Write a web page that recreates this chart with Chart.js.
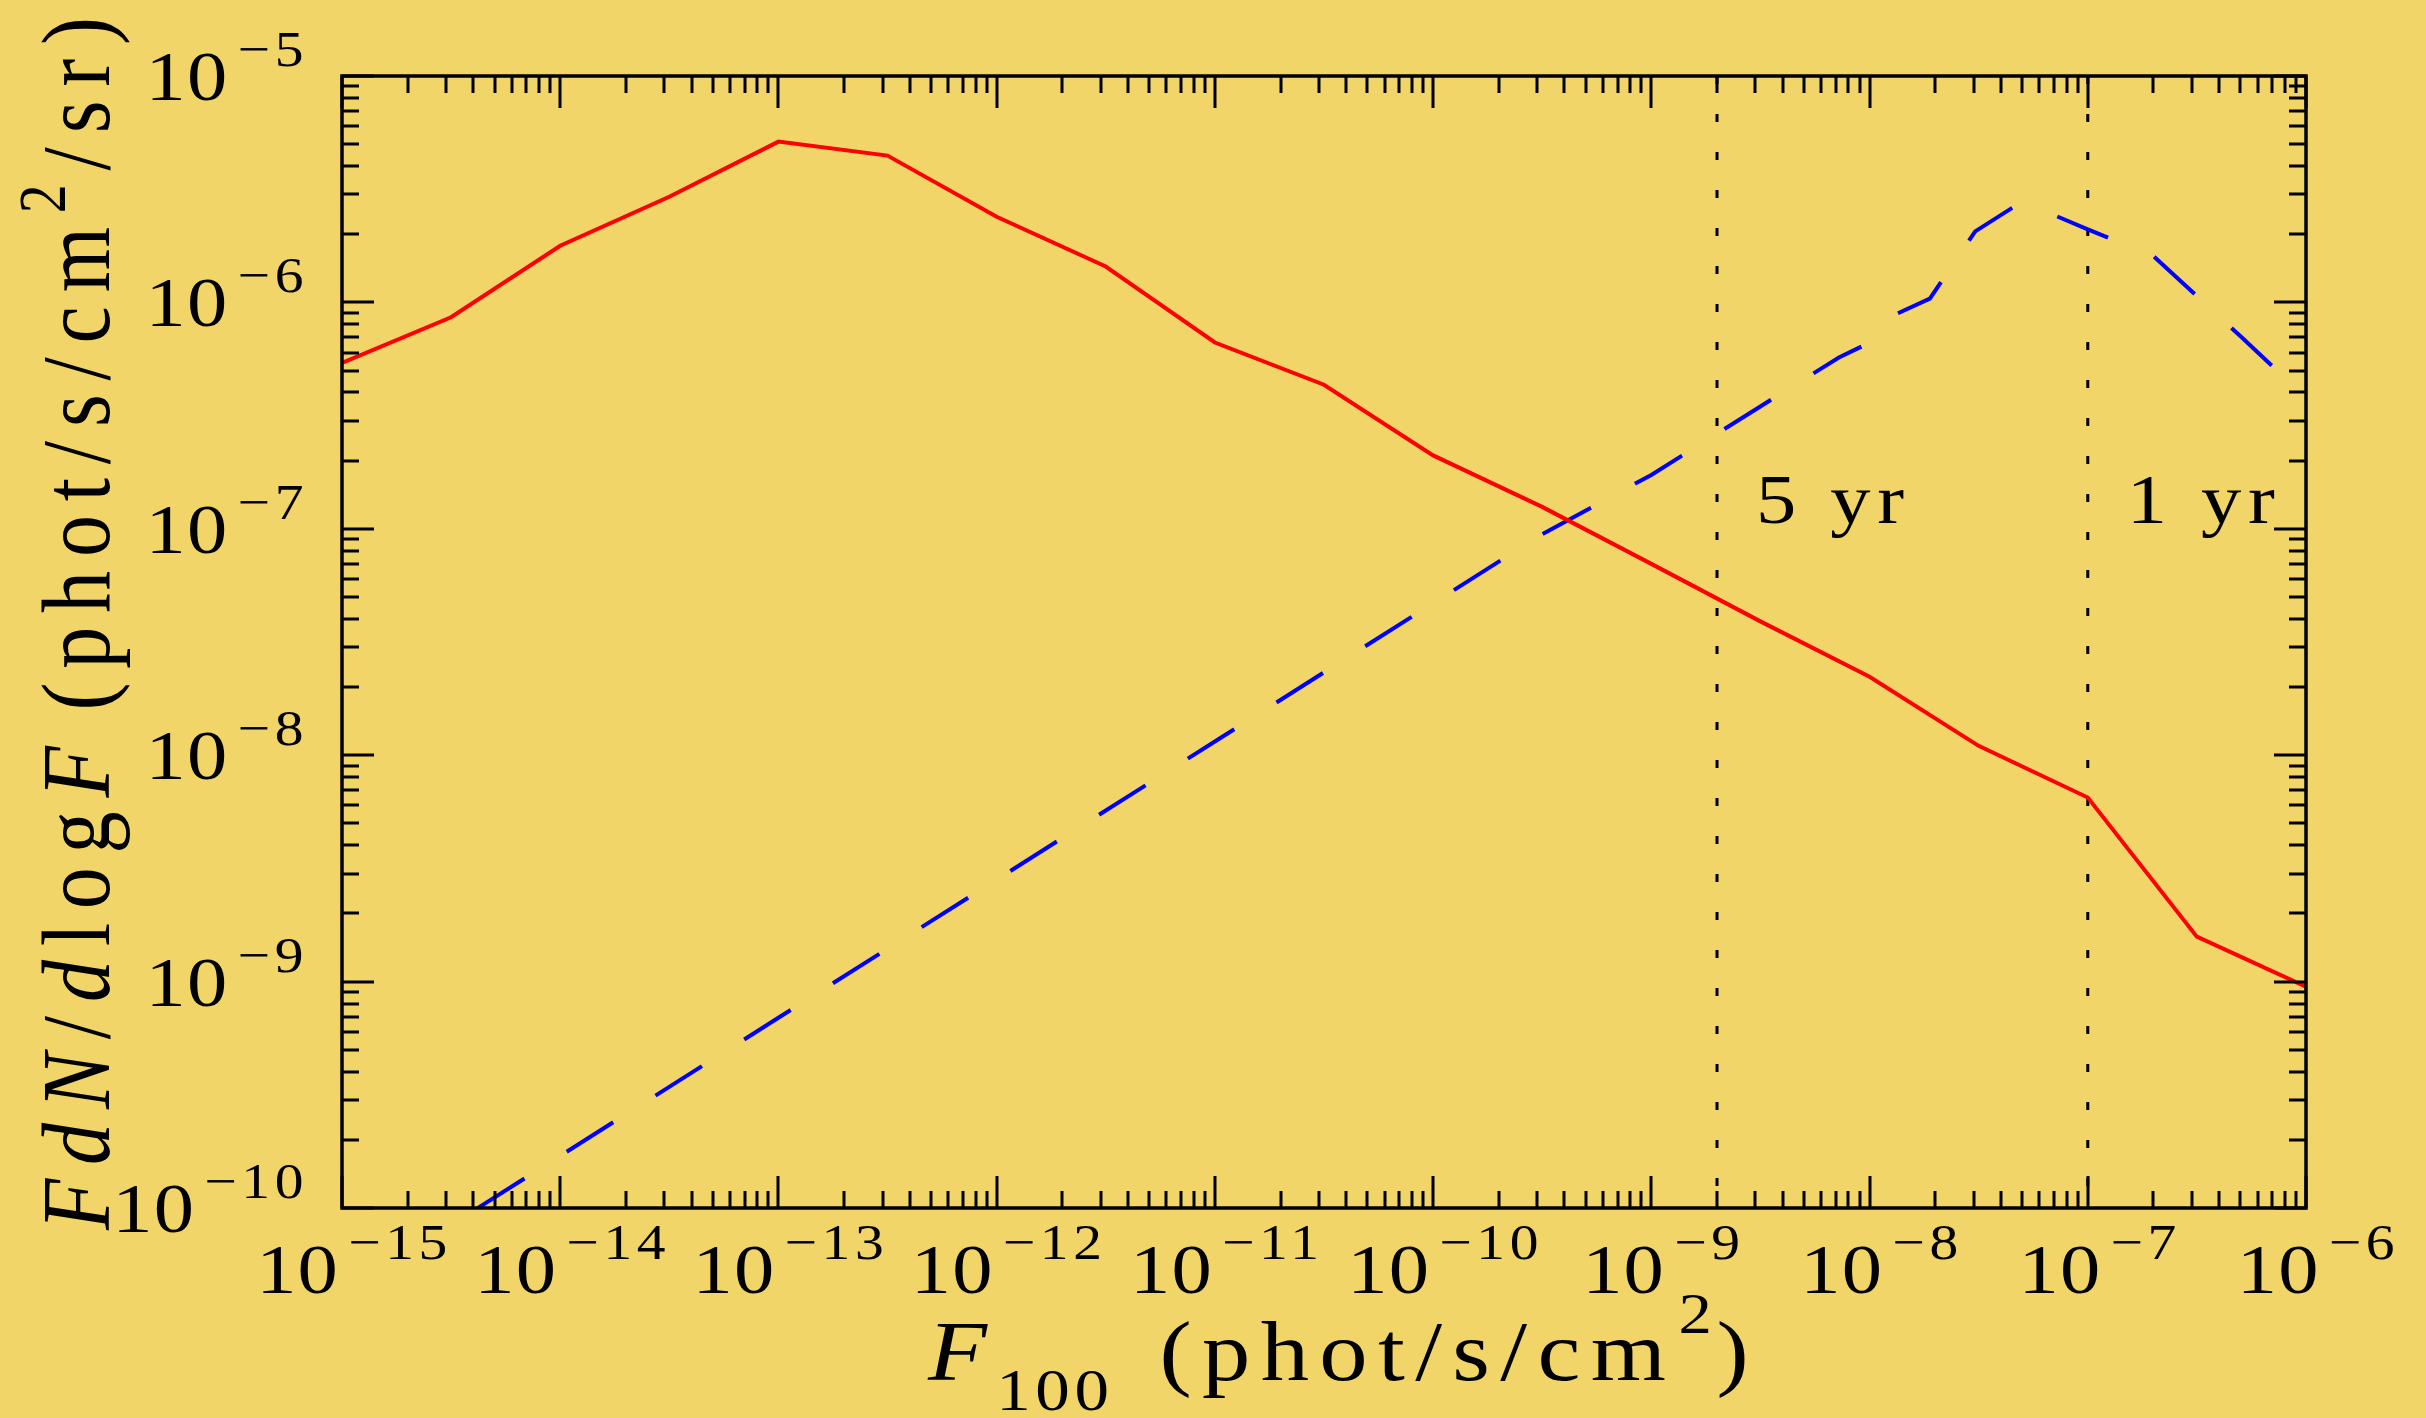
<!DOCTYPE html>
<html>
<head>
<meta charset="utf-8">
<script src="https://cdn.jsdelivr.net/npm/chart.js@4.4.0/dist/chart.umd.min.js"></script>
<style>
  html, body { margin: 0; padding: 0; background: #F2D568; }
  #wrap { width: 2426px; height: 1418px; }
</style>
</head>
<body>
<div id="wrap"><canvas id="fluxChart" width="2426" height="1418"></canvas></div>
<script>
// F100 grid (half-decade steps) and the solid red curve
const fluxGrid = [1e-15, 3.16e-15, 1e-14, 3.16e-14, 1e-13, 3.16e-13, 1e-12, 3.16e-12, 1e-11, 3.16e-11,
                  1e-10, 3.16e-10, 1e-9, 3.16e-9, 1e-8, 3.16e-8, 1e-7, 3.16e-7, 1e-6];
const redValues = [5.4e-7, 8.6e-7, 1.78e-6, 2.93e-6, 5.13e-6, 4.45e-6, 2.39e-6, 1.44e-6, 6.65e-7, 4.33e-7,
                   2.11e-7, 1.25e-7, 7.0e-8, 3.9e-8, 2.22e-8, 1.1e-8, 6.5e-9, 1.58e-9, 9.5e-10];

// dashed blue curve
const blueFlux = [1e-15, 1e-14, 1e-13, 1e-12, 1e-11, 1e-10, 3.16e-10, 1e-9, 3.16e-9, 7.24e-9,
                  1e-8, 1.34e-8, 1.89e-8, 3.05e-8, 5e-8, 1e-7, 2e-7, 5e-7, 1e-6];
const blueValues = [4.17e-11, 1.70e-10, 6.92e-10, 2.82e-9, 1.15e-8, 4.69e-8, 9.46e-8, 1.73e-7, 3.47e-7, 5.71e-7,
                    6.64e-7, 8.93e-7, 1.04e-6, 2.06e-6, 2.79e-6, 2.10e-6, 1.60e-6, 7.1e-7, 3.8e-7];

// survey sensitivity markers
const markerFlux = [2e-9, 1e-7];
const markerText = ['5 yr', '1 yr'];

// axes
const xTickExponents = [-15, -14, -13, -12, -11, -10, -9, -8, -7, -6];
const yTickExponents = [-10, -9, -8, -7, -6, -5];
const xMin = 1e-15, xMax = 1e-6;
const yMin = 1e-10, yMax = 1e-5;

const BG = '#F2D568';
const SERIF = '"Liberation Serif", "Times New Roman", serif';
const SX = 1.15; // glyphs in the original are wide

function font(size, italic) {
    return (italic ? 'italic ' : '') + size + 'px ' + SERIF;
}

function put(ctx, str, f, spacing, x, y) {
    ctx.font = f;
    ctx.letterSpacing = spacing + 'px';
    ctx.fillText(str, x, y);
    return ctx.measureText(str).width;
}

function measure(ctx, str, f, spacing) {
    ctx.font = f;
    ctx.letterSpacing = spacing + 'px';
    return ctx.measureText(str).width;
}

// "10" with a superscript exponent
function powerLabel(ctx, exp, anchorX, baseY, align) {
    const base = '10';
    const sup = '\u2212' + Math.abs(exp);
    const fb = font(70), fs = font(50);
    const gap = 8;
    const wb = measure(ctx, base, fb, 1);
    const ws = measure(ctx, sup, fs, 4);
    const total = (wb + gap + ws) * SX;
    let left;
    if (align === 'center') left = anchorX - total / 2;
    else left = anchorX - total;
    ctx.save();
    ctx.translate(left, baseY);
    ctx.scale(SX, 1);
    put(ctx, base, fb, 1, 0, 0);
    put(ctx, sup, fs, 4, wb + gap, -34);
    ctx.restore();
}

const framePlugin = {
    id: 'frame',
    beforeDraw(chart) {
        const ctx = chart.ctx;
        ctx.save();
        ctx.fillStyle = BG;
        ctx.fillRect(0, 0, chart.width, chart.height);
        ctx.restore();
    },
    afterDatasetsDraw(chart) {
        const { ctx, chartArea: a, scales: { x, y } } = chart;
        ctx.save();
        ctx.strokeStyle = '#000';
        ctx.fillStyle = '#000';
        ctx.setLineDash([]);

        // ticks, inside on all four sides
        ctx.lineWidth = 3;
        const MAJ = 32, MIN = 17;
        ctx.beginPath();
        xTickExponents.forEach((e, i) => {
            const px = Math.round(x.getPixelForValue(Math.pow(10, e)));
            ctx.moveTo(px, a.bottom); ctx.lineTo(px, a.bottom - MAJ);
            ctx.moveTo(px, a.top); ctx.lineTo(px, a.top + MAJ);
            if (i < xTickExponents.length - 1) {
                for (let m = 2; m <= 9; m++) {
                    const pm = Math.round(x.getPixelForValue(m * Math.pow(10, e)));
                    ctx.moveTo(pm, a.bottom); ctx.lineTo(pm, a.bottom - MIN);
                    ctx.moveTo(pm, a.top); ctx.lineTo(pm, a.top + MIN);
                }
            }
        });
        yTickExponents.forEach((e, i) => {
            const py = Math.round(y.getPixelForValue(Math.pow(10, e)));
            ctx.moveTo(a.left, py); ctx.lineTo(a.left + MAJ, py);
            ctx.moveTo(a.right, py); ctx.lineTo(a.right - MAJ, py);
            if (i < yTickExponents.length - 1) {
                for (let m = 2; m <= 9; m++) {
                    const pm = Math.round(y.getPixelForValue(m * Math.pow(10, e)));
                    ctx.moveTo(a.left, pm); ctx.lineTo(a.left + MIN, pm);
                    ctx.moveTo(a.right, pm); ctx.lineTo(a.right - MIN, pm);
                }
            }
        });
        ctx.stroke();

        // box
        ctx.lineWidth = 3.5;
        ctx.strokeRect(a.left, a.top, a.right - a.left, a.bottom - a.top);

        // tick labels
        ctx.textBaseline = 'alphabetic';
        ctx.textAlign = 'left';
        xTickExponents.forEach(e => {
            const px = x.getPixelForValue(Math.pow(10, e));
            powerLabel(ctx, e, px + 12, a.bottom + 85, 'center');
        });
        yTickExponents.forEach(e => {
            const py = y.getPixelForValue(Math.pow(10, e));
            powerLabel(ctx, e, a.left - 34, py + 24, 'right');
        });

        // marker labels
        markerFlux.forEach((f, i) => {
            const px = x.getPixelForValue(f);
            ctx.save();
            ctx.translate(px + 39, y.getPixelForValue(1.06e-7));
            ctx.scale(SX, 1);
            put(ctx, markerText[i], font(70), 6, 0, 0);
            ctx.restore();
        });

        // x title: F_100 (phot/s/cm^2)
        ctx.save();
        ctx.translate(a.left + 586, a.bottom + 172);
        ctx.scale(SX, 1);
        let cx = 0;
        cx += put(ctx, 'F', font(84, true), 0, cx, 0);
        cx += 8;
        cx += put(ctx, '100', font(60), 4, cx, 30);
        cx += 40;
        cx += put(ctx, '(phot/s/cm', font(84), 9, cx, 0);
        cx += 2;
        cx += put(ctx, '2', font(58), 0, cx, -47);
        cx += 4;
        put(ctx, ')', font(84), 0, cx, 0);
        ctx.restore();

        // y title, rotated
        ctx.save();
        ctx.translate(109, a.bottom + 22);
        ctx.rotate(-Math.PI / 2);
        ctx.scale(1, SX);
        let cy = 0;
        const sp = 13.8;
        cy += put(ctx, 'FdN', font(84, true), sp, cy, 0);
        cy += put(ctx, '/', font(84), sp, cy, 0);
        cy += put(ctx, 'd', font(84, true), sp, cy, 0);
        cy += put(ctx, 'log', font(84), sp, cy, 0);
        cy += put(ctx, 'F', font(84, true), sp, cy, 0);
        cy += 22;
        cy += put(ctx, '(phot/s/cm', font(84), sp, cy, 0);
        cy += put(ctx, '2', font(58), sp, cy, -38);
        put(ctx, '/sr)', font(84), sp, cy, 0);
        ctx.restore();

        ctx.restore();
    }
};

const ctx = document.getElementById('fluxChart');
const chart = new Chart(ctx, {
    type: 'line',
    data: {
        datasets: [
            {
                label: 'red',
                data: fluxGrid.map((f, i) => ({ x: f, y: redValues[i] })),
                borderColor: '#FF0000',
                borderWidth: 4,
                pointRadius: 0,
                tension: 0,
                clip: 0
            },
            {
                label: 'blue',
                data: blueFlux.map((f, i) => ({ x: f, y: blueValues[i] })),
                borderColor: '#0000FF',
                borderWidth: 4,
                borderDash: [55, 50],
                borderDashOffset: 49,
                pointRadius: 0,
                tension: 0,
                clip: 0
            },
            ...markerFlux.map(f => ({
                label: 'marker',
                data: [{ x: f, y: yMax }, { x: f, y: yMin }],
                borderColor: '#000000',
                borderWidth: 3,
                borderDash: [8, 30],
                pointRadius: 0,
                clip: 0
            }))
        ]
    },
    options: {
        responsive: false,
        devicePixelRatio: 1,
        animation: false,
        layout: { padding: { left: 342, right: 120, top: 76, bottom: 210 } },
        plugins: {
            legend: { display: false },
            tooltip: { enabled: false }
        },
        scales: {
            x: { type: 'logarithmic', min: xMin, max: xMax, display: false },
            y: { type: 'logarithmic', min: yMin, max: yMax, display: false }
        }
    },
    plugins: [framePlugin]
});
</script>
</body>
</html>
